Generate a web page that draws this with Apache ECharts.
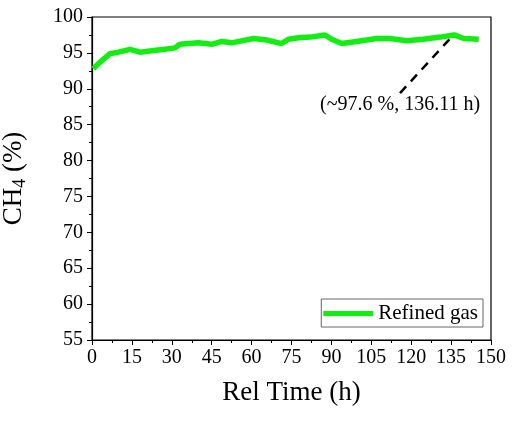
<!DOCTYPE html>
<html><head><meta charset="utf-8">
<script src="https://cdn.jsdelivr.net/npm/echarts@6/dist/echarts.min.js"></script>
<style>html,body{margin:0;padding:0;background:#fff}#c{width:521px;height:423px}</style>
</head><body><div id="c"></div>
<script>
var hours = [0.5, 2.4, 6.8, 9.9, 14.3, 18, 22.4, 27.4, 31.2, 33, 40, 45, 48.8, 52.5, 60.7, 65.7, 71.3, 73.8, 77.6, 82, 87.6, 90.1, 93.9, 99.5, 107, 112, 118.3, 124.5, 131, 136.1, 139.8, 145.4];
var ch4 = [92.8, 93.5, 94.9, 95.1, 95.5, 95.1, 95.3, 95.5, 95.7, 96.2, 96.4, 96.2, 96.6, 96.4, 97.0, 96.8, 96.3, 96.9, 97.1, 97.2, 97.5, 96.9, 96.3, 96.6, 97.0, 97.0, 96.7, 96.9, 97.2, 97.5, 97.0, 96.9];
var annotX = [115.8, 136.11];
var annotY = [89.4, 97.6];
var annotText = '(~97.6 %, 136.11 h)';
var xTicks = [0, 15, 30, 45, 60, 75, 90, 105, 120, 135, 150];
var yTicks = [55, 60, 65, 70, 75, 80, 85, 90, 95, 100];

var F = 'Liberation Serif';
var chart = echarts.init(document.getElementById('c'));
chart.setOption({
  animation: false,
  grid: {left: 92, right: 30, top: 17, bottom: 83, show: true, borderColor: '#000', borderWidth: 1.2,
         containLabel: false, outerBoundsMode: 'none'},
  legend: {
    data: ['Refined gas'], right: 38, top: 299, orient: 'vertical',
    borderColor: '#666', borderWidth: 1, padding: [4, 5, 3, 2],
    icon: 'rect', itemWidth: 50, itemHeight: 5, itemGap: 4,
    textStyle: {fontFamily: F, fontSize: 21, color: '#000'}
  },
  xAxis: {
    type: 'value', min: xTicks[0], max: xTicks[xTicks.length - 1], interval: 15,
    axisLine: {lineStyle: {color: '#000', width: 1.2}},
    axisTick: {show: true, inside: false, length: 5, lineStyle: {color: '#000'}},
    minorTick: {show: true, splitNumber: 2, length: 3, lineStyle: {color: '#000'}},
    splitLine: {show: false},
    axisLabel: {fontFamily: F, fontSize: 20, color: '#000', margin: 8},
    name: 'Rel Time (h)', nameLocation: 'middle', nameGap: 39,
    nameTextStyle: {fontFamily: F, fontSize: 27, color: '#000'}
  },
  yAxis: {
    type: 'value', min: yTicks[0], max: yTicks[yTicks.length - 1], interval: 5,
    axisLine: {show: true, lineStyle: {color: '#000', width: 1.2}},
    axisTick: {show: true, inside: false, length: 5, lineStyle: {color: '#000'}},
    minorTick: {show: true, splitNumber: 2, length: 3, lineStyle: {color: '#000'}},
    splitLine: {show: false},
    axisLabel: {fontFamily: F, fontSize: 20, color: '#000', margin: 9},
    name: '{a|CH}{b|4}{a| (%)}', nameLocation: 'middle', nameGap: 63,
    nameTextStyle: {
      fontFamily: F, fontSize: 27, color: '#000',
      rich: {
        a: {fontFamily: F, fontSize: 27, color: '#000'},
        b: {fontFamily: F, fontSize: 18, color: '#000', padding: [12, 0, 0, 0]}
      }
    }
  },
  series: [
    {
      name: 'Refined gas', type: 'line', showSymbol: false, symbol: 'none',
      data: hours.map(function (h, i) { return [h, ch4[i]]; }),
      lineStyle: {color: '#12ee12', width: 5.5},
      itemStyle: {color: '#12ee12'}
    },
    {
      name: 'annot', type: 'line', symbol: 'none',
      data: annotX.map(function (x, i) { return [x, annotY[i]]; }),
      lineStyle: {color: '#000', width: 2.5, type: [9, 7]},
      silent: true
    }
  ]
});
var p = chart.convertToPixel({gridIndex: 0}, [annotX[0], annotY[0]]);
chart.setOption({
  graphic: [{
    type: 'text', x: p[0], y: p[1] + 2, silent: true,
    style: {text: annotText, fontFamily: F, fontSize: 20, fill: '#000', align: 'center', verticalAlign: 'top'}
  }]
});
</script></body></html>
